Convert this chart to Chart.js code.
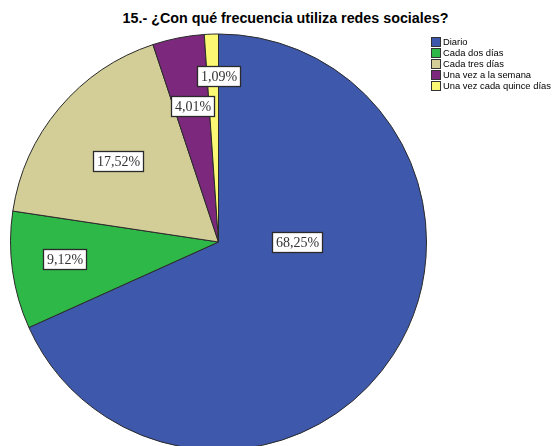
<!DOCTYPE html>
<html>
<head>
<meta charset="utf-8">
<script src="https://cdn.jsdelivr.net/npm/chart.js@4/dist/chart.umd.min.js"></script>
<style>
  html, body { margin: 0; padding: 0; background: #fff; overflow: hidden; }
  body { width: 557px; height: 446px; position: relative; }
  #titulo {
    position: absolute; top: 10px; left: 7px; width: 557px;
    text-align: center; font: bold 14.3px/16px "Liberation Sans", Arial, sans-serif; color: #000;
  }
  #chartBox { position: absolute; top: 0; left: 0; width: 437px; height: 470px; }
  #legend { position: absolute; left: 431px; top: 36px; font: 9.4px/11px "Liberation Sans", Arial, sans-serif; color: #000; }
  .legend-item { display: flex; align-items: center; height: 11px; white-space: nowrap; }
  .legend-dot { width: 8px; height: 8px; border: 1px solid #333; margin-right: 2px; }
</style>
</head>
<body>
<div id="titulo">15.- ¿Con qué frecuencia utiliza redes sociales?</div>
<div id="chartBox"><canvas id="chartCanvas"></canvas></div>
<div id="legend"></div>
<script>
const categorias = ["Diario", "Cada dos días", "Cada tres días", "Una vez a la semana", "Una vez cada quince días"];
const porcentajes = [68.25, 9.12, 17.52, 4.01, 1.09];
const colores = ["#3e58ac", "#2eb848", "#d3ce97", "#7c287d", "#fbf873"];

// posición de cada etiqueta: fracción del radio y desvío angular (grados) respecto al centro del sector
const posEtiqueta = [[0.376, -32.8], [0.743, 1.6], [0.62, -1.4], [0.665, 0.2], [0.80, 2]];

const formato = (v) => v.toFixed(2).replace(".", ",") + "%";

const etiquetasPlugin = {
  id: "etiquetas",
  afterDatasetsDraw(chart) {
    const ctx = chart.ctx;
    const meta = chart.getDatasetMeta(0);
    ctx.save();
    ctx.font = "14px 'Liberation Serif', 'Times New Roman', serif";
    ctx.textAlign = "center";
    ctx.textBaseline = "middle";
    meta.data.forEach((arc, i) => {
      const { x, y, startAngle, endAngle, outerRadius } =
        arc.getProps(["x", "y", "startAngle", "endAngle", "outerRadius"], true);
      const [frac, desv] = posEtiqueta[i];
      const ang = (startAngle + endAngle) / 2 + (desv * Math.PI) / 180;
      const lx = x + Math.cos(ang) * outerRadius * frac;
      const ly = y + Math.sin(ang) * outerRadius * frac;
      const texto = formato(porcentajes[i]);
      const w = Math.round(ctx.measureText(texto).width + 7);
      const h = 20;
      const bx = Math.round(lx - w / 2) + 0.5;
      const by = Math.round(ly - h / 2) + 0.5;
      ctx.fillStyle = "#fff";
      ctx.fillRect(bx, by, w, h);
      ctx.strokeStyle = "#2a2a2a";
      ctx.lineWidth = 1.3;
      ctx.strokeRect(bx, by, w, h);
      ctx.fillStyle = "#333";
      ctx.fillText(texto, bx + w / 2, by + h / 2 + 1);
    });
    ctx.restore();
  },
};

new Chart(document.getElementById("chartCanvas").getContext("2d"), {
  type: "pie",
  data: {
    labels: categorias,
    datasets: [
      {
        data: porcentajes,
        backgroundColor: colores,
        borderColor: "#2a2a2a",
        borderWidth: 1,
      },
    ],
  },
  options: {
    responsive: true,
    maintainAspectRatio: false,
    animation: false,
    layout: { padding: { top: 33, left: 10, right: 10, bottom: 19 } },
    plugins: {
      legend: { display: false },
      title: { display: false },
      tooltip: { enabled: false },
    },
  },
  plugins: [etiquetasPlugin],
});

document.getElementById("legend").innerHTML = categorias
  .map(
    (c, i) =>
      `<div class="legend-item"><span class="legend-dot" style="background:${colores[i]}"></span><span>${c}</span></div>`
  )
  .join("");
</script>
</body>
</html>
